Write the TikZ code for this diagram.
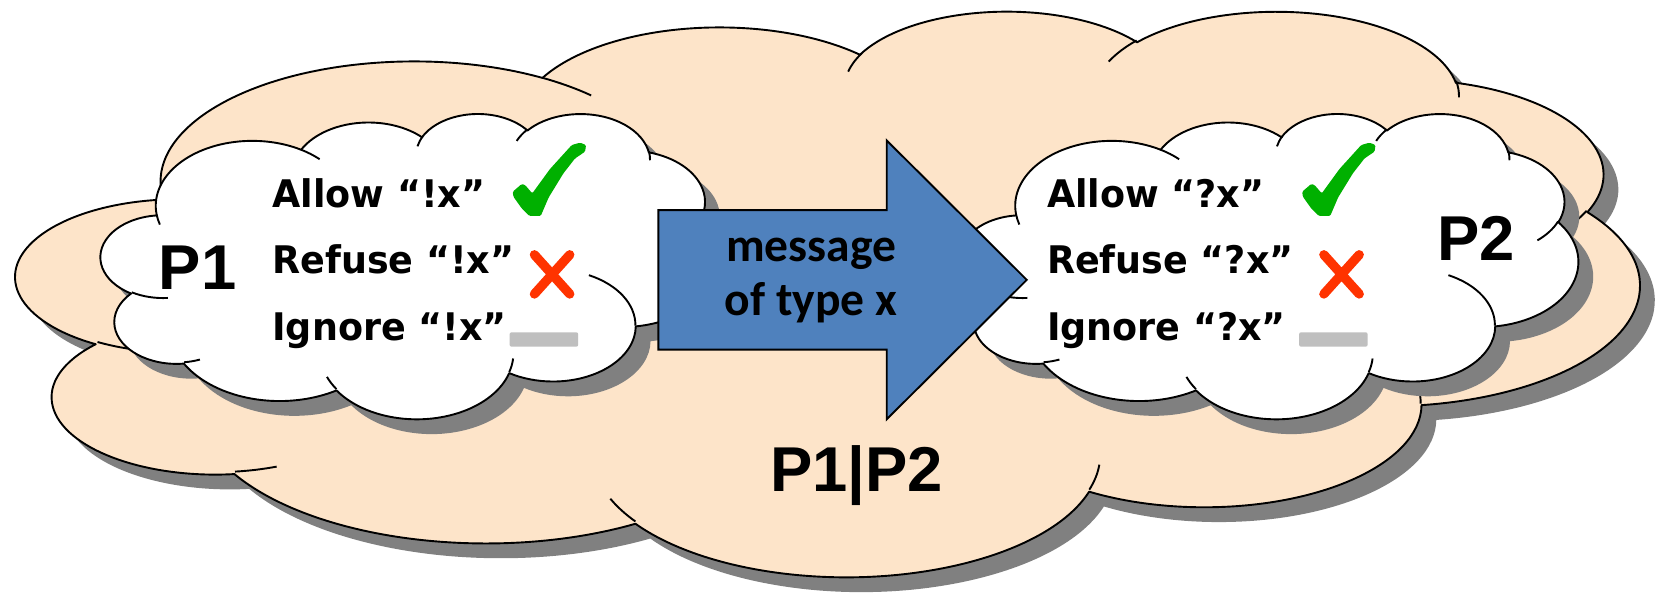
\documentclass[tikz,border=0pt]{standalone}
\usepackage{fontspec}
\newfontfamily\labelfont[FakeStretch=0.96]{DejaVu Sans}
\newfontfamily\procfont{Liberation Sans}
\newfontfamily\msgfont{Carlito}

\definecolor{peach}{HTML}{FDE4C9}
\definecolor{shadowgray}{HTML}{808080}
\definecolor{arrowblue}{HTML}{4F81BD}
\definecolor{checkgreen}{HTML}{00B000}
\definecolor{crossred}{HTML}{FF3300}
\definecolor{dashgray}{HTML}{BFBFBF}

% Elliptic arcs of the cloud outline are given by "visual" angles
% (direction seen from the centre); TikZ wants parametric angles.
% \mkang{name}{rx}{ry}{start}{sweep} defines \<name>s and \<name>e.
\newcommand\mkang[5]{%
  \pgfmathsetmacro\tmpa{#4}%
  \pgfmathsetmacro\tmpb{#4+#5}%
  \pgfmathsetmacro\tmps{atan2((#2)*sin(\tmpa),(#3)*cos(\tmpa))}%
  \pgfmathsetmacro\tmpe{atan2((#2)*sin(\tmpb),(#3)*cos(\tmpb))}%
  \pgfmathsetmacro\tmpe{\tmps+mod(\tmpe-\tmps+720,360)}%
  \expandafter\xdef\csname #1s\endcsname{\tmps}%
  \expandafter\xdef\csname #1e\endcsname{\tmpe}%
}
% outer bumps
\mkang{aA}{675.3}{919.0}{-190.48748}{123.78053}
\mkang{aB}{533.3}{726.7}{-144.10238}{89.94523}
\mkang{aC}{436.5}{594.5}{-145.80792}{99.72302}
\mkang{aD}{485.7}{659.5}{-130.98607}{117.24173}
\mkang{aE}{533.3}{727.3}{-78.70888}{109.02692}
\mkang{aF}{677.5}{922.0}{-46.26725}{130.269}
\mkang{aG}{578.5}{786.7}{0.62502}{114.03333}
\mkang{aH}{675.2}{921.5}{22.4516}{115.17255}
\mkang{aI}{772.0}{1054.3}{66.24263}{75.71102}
\mkang{aJ}{436.0}{591.8}{-274.94208}{146.73557}
\mkang{aK}{434.5}{594.5}{-246.8285}{152.51885}
% inner curls
\mkang{tA}{434.5}{594.5}{86.742}{26.4295}
\mkang{tB}{436.0}{591.8}{73.61047}{11.44747}
\mkang{tC}{675.2}{921.5}{137.62415}{14.0811}
\mkang{tD}{675.2}{921.5}{6.45327}{15.99835}
\mkang{tE}{578.5}{786.7}{-70.29235}{70.91737}
\mkang{tF}{533.3}{727.3}{30.31803}{27.7515}
\mkang{tG}{485.7}{659.5}{-13.74433}{14.8589}
\mkang{tH}{485.7}{659.5}{-149.18145}{18.19537}
\mkang{tI}{436.5}{594.5}{-163.49427}{17.68635}
\mkang{tJ}{675.3}{919.0}{-66.70695}{12.31935}
\mkang{tK}{675.3}{919.0}{157.65435}{11.85817}

% cloud in a 4320 x 4320 box, y pointing down
\def\cloudoutline{(390,1437)
  arc[start angle=\aAs,end angle=\aAe,x radius=675.3,y radius=919.0]
  arc[start angle=\aBs,end angle=\aBe,x radius=533.3,y radius=726.7]
  arc[start angle=\aCs,end angle=\aCe,x radius=436.5,y radius=594.5]
  arc[start angle=\aDs,end angle=\aDe,x radius=485.7,y radius=659.5]
  arc[start angle=\aEs,end angle=\aEe,x radius=533.3,y radius=727.3]
  arc[start angle=\aFs,end angle=\aFe,x radius=677.5,y radius=922.0]
  arc[start angle=\aGs,end angle=\aGe,x radius=578.5,y radius=786.7]
  arc[start angle=\aHs,end angle=\aHe,x radius=675.2,y radius=921.5]
  arc[start angle=\aIs,end angle=\aIe,x radius=772.0,y radius=1054.3]
  arc[start angle=\aJs,end angle=\aJe,x radius=436.0,y radius=591.8]
  arc[start angle=\aKs,end angle=\aKe,x radius=434.5,y radius=594.5] -- cycle}
\def\cloudtails{
  (469.3,2617.7) arc[start angle=\tAs,end angle=\tAe,x radius=434.5,y radius=594.5]
  (692.8,3489.9) arc[start angle=\tBs,end angle=\tBe,x radius=436.0,y radius=591.8]
  (1647.8,3909.0) arc[start angle=\tCs,end angle=\tCe,x radius=675.2,y radius=921.5]
  (2882.7,3475.1) arc[start angle=\tDs,end angle=\tDe,x radius=675.2,y radius=921.5]
  (3412.9,2295.4) arc[start angle=\tEs,end angle=\tEe,x radius=578.5,y radius=786.7]
  (4179.8,1535.4) arc[start angle=\tFs,end angle=\tFe,x radius=533.3,y radius=727.3]
  (3832.4,542.6) arc[start angle=\tGs,end angle=\tGe,x radius=485.7,y radius=659.5]
  (2907.8,395.2) arc[start angle=\tHs,end angle=\tHe,x radius=485.7,y radius=659.5]
  (2214.1,472.0) arc[start angle=\tIs,end angle=\tIe,x radius=436.5,y radius=594.5]
  (1400.0,519.2) arc[start angle=\tJs,end angle=\tJe,x radius=675.3,y radius=919.0]
  (412.7,1578.9) arc[start angle=\tKs,end angle=\tKe,x radius=675.3,y radius=919.0]}

% \drawcloud{left}{top}{width}{height}{fill}
\newcommand\drawcloud[5]{%
  \pgfmathsetmacro\cxu{#3*0.5/4320}%
  \pgfmathsetmacro\cyu{#4*0.5/4320}%
  \begin{scope}[shift={(#1+14,#2+14)},x=\cxu pt,y=-\cyu pt]
    \fill[shadowgray] \cloudoutline;
  \end{scope}
  \begin{scope}[shift={(#1,#2)},x=\cxu pt,y=-\cyu pt]
    \filldraw[fill=#5,cloudline] \cloudoutline;
    \draw[cloudline] \cloudtails;
  \end{scope}}

% tick, cross and dash next to the three rules
\newcommand\verdicts{%
  \fill[checkgreen,rounded corners=0.6pt] (485.5,181.5) -- (494.0,174.2) -- (497.2,175.2)
    -- (504,183.1) -- (520.8,160) -- (541.4,137.3) -- (549.2,135.1) -- (554.9,137.3)
    -- (554,143.6) -- (544.5,150) -- (533.5,164.1) -- (519.5,187) -- (512,204.5)
    -- (501.3,204.5) -- (494,197.3) -- (486.1,186.2) -- cycle;
  \draw[crossred,line width=4.4pt,line cap=round]
    (506,241.2) -- (539.5,278.4) (539.5,241.2) -- (506,278.4);
  \fill[dashgray,rounded corners=1pt] (482.5,314.6) rectangle (547.5,328.3);
}

\begin{document}
\begin{tikzpicture}[x=0.5pt,y=-0.5pt,
  cloudline/.style={draw=black,line width=0.9pt,line join=round},
  ruletext/.style={font=\labelfont\bfseries\fontsize{18}{20}\selectfont,inner sep=0pt,anchor=base west},
  proctext/.style={font=\procfont\bfseries\fontsize{30}{34}\selectfont,inner sep=0pt,anchor=base},
  msgtext/.style={font=\msgfont\bfseries\fontsize{22.5}{26}\selectfont,inner sep=0pt,anchor=base}]
\useasboundingbox (0,0) rectangle (1568,561);

% composition P1|P2 and the two processes
\drawcloud{15.5}{9.3}{1536.8}{535.4}{peach}
\drawcloud{95.5}{107}{585}{289}{white}
\drawcloud{909.3}{107}{585}{289}{white}

% message arrow
\filldraw[fill=arrowblue,draw=black,line width=0.9pt,line join=miter]
  (623.4,199) -- (839.6,199) -- (839.6,133) -- (972.2,265) -- (839.6,397)
  -- (839.6,331) -- (623.4,331) -- cycle;
\node[msgtext] (msg1) at (768,247.2) {message};
\node[msgtext] (msg2) at (768,299.2) {of type x};

% labels
\node[proctext] (p1) at (187,274) {P1};
\node[proctext] (p2) at (1397.7,246.7) {P2};
\node[proctext] (par) at (811,465) {P1|P2};

\node[ruletext] (allow1) at (257.5,196.3) {Allow “!x”};
\node[ruletext] (refuse1) at (257.5,259.2) {Refuse “!x”};
\node[ruletext] (ignore1) at (257.5,322) {Ignore “!x”};
\node[ruletext] (allow2) at (991,196.3) {Allow “?x”};
\node[ruletext] (refuse2) at (991,259.2) {Refuse “?x”};
\node[ruletext] (ignore2) at (991,322) {Ignore “?x”};

\verdicts
\begin{scope}[shift={(747.5,0)}]
  \verdicts
\end{scope}
\end{tikzpicture}
\end{document}
